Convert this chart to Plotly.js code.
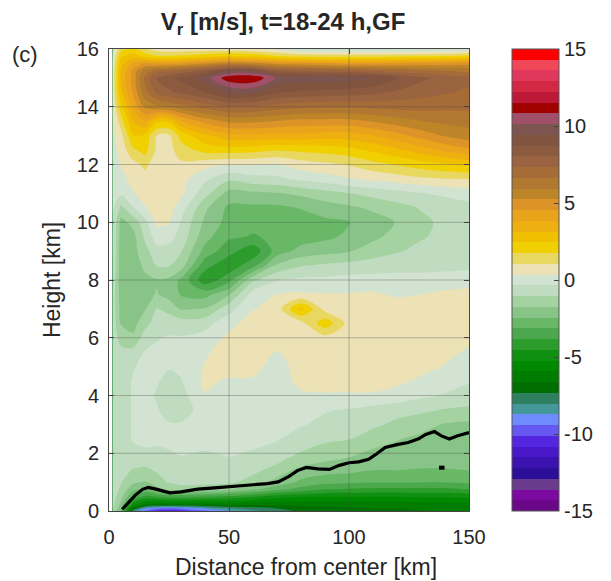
<!DOCTYPE html>
<html>
<head>
<meta charset="utf-8">
<script src="https://cdn.plot.ly/plotly-3.0.1.min.js"></script>
<style>html,body{margin:0;padding:0;background:#fff;}#chart{width:611px;height:581px;}</style>
</head>
<body>
<div id="chart"></div>
<script>
// Radial distance (km) of the grid columns
const distanceKm = [1.5, 5, 10, 15, 20, 25, 30, 40, 50, 60, 70, 80, 90, 100, 110, 120, 130, 140, 150];
// Heights (km) of the grid rows
const heightKm = [0, 0.1, 0.25, 0.5, 0.75, 1, 1.5, 2, 2.5, 3, 3.5, 4, 4.5, 5, 5.5, 6, 6.5, 7, 7.5, 8,
  8.5, 9, 9.5, 10, 10.5, 11, 11.5, 12, 12.5, 13, 13.5, 14, 14.5, 15, 15.25, 15.5, 15.75, 16];
// Radial wind Vr (m/s), one row per height
const vr = [
  [-1.0, -2.5, -8.0, -9.5, -10.4, -10.6, -10.4, -9.6, -8.8, -8.2, -7.6, -7.2, -7.0, -6.9, -6.8, -6.8, -6.7, -6.6, -6.5], // 0
  [-0.9, -2.2, -6.5, -8.6, -9.2, -9.4, -9.2, -8.6, -8.0, -7.6, -7.3, -7.0, -6.8, -6.7, -6.6, -6.6, -6.5, -6.5, -6.4],   // 0.1
  [-0.8, -1.9, -4.8, -5.8, -6.0, -6.0, -6.0, -6.0, -6.0, -6.2, -6.3, -6.3, -6.3, -6.3, -6.2, -6.2, -6.1, -6.1, -6.0],   // 0.25
  [-0.7, -1.5, -3.2, -4.0, -3.8, -3.6, -3.6, -3.8, -4.0, -4.4, -4.9, -5.1, -5.2, -5.2, -5.2, -5.2, -5.1, -5.1, -5.0],   // 0.5
  [-0.6, -1.2, -2.2, -2.6, -2.0, -1.5, -1.4, -1.5, -1.7, -2.3, -2.9, -3.4, -3.8, -3.9, -4.0, -4.0, -4.0, -4.0, -3.8],   // 0.75
  [-0.6, -1.0, -1.6, -1.8, -1.3, -1.0, -0.8, -0.8, -0.9, -1.3, -2.0, -2.6, -2.9, -3.0, -3.1, -3.1, -3.1, -3.1, -3.0],   // 1
  [-0.5, -0.8, -1.0, -1.1, -0.9, -0.7, -0.6, -0.6, -0.5, -0.8, -1.2, -1.8, -2.0, -2.1, -2.3, -2.3, -2.4, -2.4, -2.3],   // 1.5
  [-0.5, -0.7, -0.5, -0.45, -0.5, -0.4, -0.3, -0.4, -0.3, -0.4, -0.6, -1.1, -1.4, -1.6, -1.9, -2.0, -2.1, -2.2, -2.2], // 2
  [-0.5, -0.6, -0.3, -0.2, -0.2, -0.2, -0.2, -0.1, -0.1, -0.2, -0.3, -0.6, -0.9, -1.0, -1.4, -1.7, -1.9, -2.0, -2.1],   // 2.5
  [-0.5, -0.6, -0.3, -0.2, -0.2, -0.3, -0.3, -0.1, 0.0, 0.0, -0.1, -0.3, -0.5, -0.7, -0.9, -1.2, -1.5, -1.8, -1.9],     // 3
  [-0.5, -0.6, -0.3, -0.2, -0.3, -0.6, -0.6, -0.1, 0.0, 0.0, 0.0, -0.1, -0.3, -0.4, -0.6, -0.8, -0.9, -1.1, -1.2],      // 3.5
  [-0.4, -0.6, -0.3, -0.2, -0.4, -0.6, -0.6, 0.3, 0.1, 0.1, -0.1, 0.2, 0.25, 0.25, 0.25, 0.1, -0.2, -0.4, -0.6],        // 4
  [-0.4, -0.6, -0.3, -0.2, -0.3, -0.5, -0.4, 0.5, 0.25, 0.25, -0.1, 0.6, 0.7, 0.7, 0.7, 0.5, 0.2, -0.1, -0.3],          // 4.5
  [-0.4, -0.7, -0.4, -0.2, -0.2, -0.3, -0.2, 0.4, 0.7, 0.6, 0.0, 0.7, 0.8, 0.8, 0.8, 0.8, 0.6, 0.3, 0.0],              // 5
  [-0.4, -0.8, -0.8, -0.3, -0.2, -0.2, -0.2, 0.25, 0.7, 0.7, 0.3, 0.8, 0.8, 0.8, 0.8, 0.8, 0.8, 0.6, 0.2],             // 5.5
  [-0.5, -1.4, -1.6, -0.7, -0.4, -0.3, -0.3, -0.1, 0.5, 0.8, 0.8, 0.8, 0.8, 0.8, 0.8, 0.8, 0.8, 0.8, 0.6],             // 6
  [-0.6, -1.8, -2.0, -1.3, -0.7, -0.6, -0.7, -0.6, 0.1, 0.7, 0.8, 0.8, 2.2, 0.8, 0.8, 0.8, 0.8, 0.8, 0.8],             // 6.5
  [-0.6, -2.0, -2.1, -1.8, -1.0, -1.3, -1.8, -1.7, -0.6, 0.3, 0.7, 2.6, 0.8, 0.8, 0.8, 0.8, 0.8, 0.8, 0.8],            // 7
  [-0.6, -2.1, -2.2, -1.9, -1.7, -2.0, -2.5, -2.7, -1.8, 0.0, 0.35, 0.45, 0.4, 0.4, 0.45, 0.25, 0.35, 0.5, 0.6],       // 7.5
  [-0.5, -2.2, -2.2, -1.9, -1.8, -1.9, -2.6, -4.3, -3.4, -1.2, -0.4, -0.2, -0.2, -0.1, -0.1, -0.1, -0.1, 0.0, 0.0],    // 8
  [-0.4, -2.2, -2.1, -1.6, -1.0, -1.0, -1.4, -3.6, -4.3, -3.4, -1.6, -1.1, -0.9, -0.8, -0.7, -0.6, -0.6, -0.6, -0.5],  // 8.5
  [-0.3, -2.2, -2.0, -1.3, -0.6, -0.6, -1.0, -2.7, -3.6, -4.3, -2.8, -2.2, -2.0, -1.8, -1.4, -1.1, -0.9, -0.8, -0.8],  // 9
  [-0.3, -2.1, -2.0, -0.9, 0.0, -0.1, -0.6, -2.2, -3.0, -3.2, -3.0, -2.8, -2.6, -2.3, -1.9, -1.5, -1.1, -0.9, -0.8],   // 9.5
  [-0.3, -2.0, -1.5, -0.6, 0.5, 0.4, -0.4, -1.9, -2.7, -2.9, -2.9, -2.8, -2.6, -2.45, -2.1, -1.7, -1.2, -0.9, -0.8],   // 10
  [-0.2, -1.2, -0.4, 0.3, 0.7, 0.6, 0.0, -1.6, -2.6, -2.6, -2.6, -2.4, -2.1, -1.9, -1.6, -1.3, -1.0, -0.8, -0.6],      // 10.5
  [-0.2, -0.2, 0.3, 0.6, 0.8, 0.8, 0.5, -0.8, -2.0, -1.9, -1.8, -1.6, -1.3, -1.05, -0.8, -0.6, -0.4, -0.2, 0.0],       // 11
  [-0.1, 0.1, 0.6, 0.8, 0.8, 0.8, 0.6, -0.2, -0.9, -0.6, -0.5, -0.2, 0.0, 0.3, 0.5, 0.7, 0.9, 1.0, 1.05],              // 11.5
  [0.0, 0.4, 0.8, 1.2, 0.7, 0.7, 0.9, 0.6, 0.4, 0.4, 0.3, 0.7, 0.9, 1.1, 1.5, 1.8, 2.1, 2.4, 2.6],                     // 12
  [0.1, 0.6, 1.6, 2.0, 0.9, 0.8, 1.4, 2.0, 2.1, 2.0, 1.8, 1.9, 2.0, 2.2, 2.6, 3.0, 3.5, 4.0, 4.4],                     // 12.5
  [0.2, 0.8, 2.4, 2.3, 1.0, 0.9, 2.0, 3.0, 3.6, 3.7, 3.6, 3.6, 3.5, 3.5, 3.8, 4.3, 4.8, 5.3, 5.6],                     // 13
  [0.3, 1.4, 3.2, 3.8, 2.6, 2.6, 3.8, 4.8, 5.4, 5.4, 5.2, 5.0, 5.0, 5.0, 5.3, 5.6, 5.9, 6.1, 6.2],                     // 13.5
  [0.4, 2.2, 4.0, 5.4, 5.8, 6.0, 6.3, 6.9, 7.4, 7.3, 7.0, 6.8, 6.7, 6.7, 6.8, 6.9, 6.9, 6.8, 6.8],                     // 14
  [0.5, 3.0, 4.6, 6.4, 7.5, 7.9, 8.2, 8.7, 9.5, 9.5, 8.8, 8.6, 8.5, 8.4, 8.2, 7.9, 7.6, 7.4, 7.2],                     // 14.5
  [0.5, 3.3, 4.8, 6.8, 8.1, 8.5, 8.9, 9.7, 11.3, 11.45, 10.0, 9.8, 9.8, 9.7, 9.5, 8.8, 8.2, 7.8, 7.5],                 // 15
  [0.5, 3.2, 4.8, 6.2, 6.9, 7.2, 7.5, 8.2, 9.4, 9.4, 8.0, 7.8, 7.6, 7.5, 7.3, 7.0, 6.8, 6.6, 6.4],                     // 15.25
  [0.4, 2.9, 4.0, 4.5, 4.4, 4.4, 4.6, 5.2, 5.8, 5.5, 5.0, 4.8, 4.6, 4.5, 4.5, 4.6, 4.7, 4.8, 5.0],                     // 15.5
  [0.3, 2.3, 2.8, 2.2, 1.8, 1.8, 1.9, 2.2, 2.5, 2.3, 1.8, 1.6, 1.5, 1.5, 1.5, 1.6, 1.7, 1.8, 2.0],                     // 15.75
  [0.1, 1.5, 2.0, 1.2, 0.7, 0.6, 0.6, 0.6, 0.6, 0.5, 0.2, -0.4, -0.5, -0.5, -0.5, -0.5, -0.5, -0.4, -0.3]              // 16
];
// Black inflow-depth line
const lineX = [5.5, 8, 11, 14, 16.4, 20, 25.3, 30, 37, 44, 50.7, 60, 66, 70.5, 75, 78.5, 82.2, 87, 91.8, 96, 100,
  104, 108.2, 111, 115.1, 120, 124.7, 129, 132, 135.6, 138.5, 141.8, 145, 150];
const lineY = [0.06, 0.3, 0.55, 0.75, 0.82, 0.75, 0.63, 0.66, 0.76, 0.8, 0.84, 0.9, 0.95, 1.01, 1.2, 1.4, 1.51, 1.46,
  1.44, 1.58, 1.67, 1.7, 1.79, 1.95, 2.2, 2.3, 2.37, 2.5, 2.65, 2.75, 2.6, 2.49, 2.6, 2.72];
const dashX = [137.5, 139.8];
const dashY = [1.5, 1.5];
// Tick labels
const xTicks = [0, 50, 100, 150];
const yTicks = [0, 2, 4, 6, 8, 10, 12, 14, 16];
const cbTicks = [-15, -10, -5, 0, 5, 10, 15];
// Colormap: 43 bands from -15 to 15 (bottom to top)
const bandColors = ['#6A0888','#7A0AA0','#6A3A8C','#2C0E98','#3C12B0','#4A18C8','#5526E0','#6458F0','#6C8CFF',
  '#44989A','#2E8060','#006E00','#007C00','#008800','#109010','#2C9C2C','#4CA84C','#68B868','#88C488','#A4D2A0',
  '#C0DCC0','#D2E3D2','#ECE2B6','#E8D860','#F0D000','#F0C000','#EEB010','#EAA41C','#DC9428','#BE8428','#B07830',
  '#A66C38','#9A6440','#8C5B3F','#80543F','#7C5450','#A05068','#A00000','#BE1838','#D22844','#E0385C','#F04858','#FF0000'];

const nb = bandColors.length;
const d = 30 / nb;
const colorscale = bandColors.map((c, k) => [k / (nb - 1), c]);

const FONT = 'Liberation Sans, Arial, Helvetica, sans-serif';
const TXT = '#262626';

const traces = [
  {
    type: 'contour', x: distanceKm, y: heightKm, z: vr,
    zmin: -15, zmax: 15, zauto: false, autocontour: false,
    colorscale: colorscale,
    contours: {start: -15 + d, end: 15 - d + d * 0.01, size: d, coloring: 'fill', showlines: false},
    line: {width: 0, smoothing: 1},
    hoverinfo: 'skip',
    colorbar: {
      x: (519.5 - 109) / 367, xanchor: 'left', xpad: 0,
      y: 0, yanchor: 'bottom', ypad: 0, len: 1, lenmode: 'fraction',
      thickness: 47, thicknessmode: 'pixels',
      outlinecolor: '#555', outlinewidth: 1,
      tickmode: 'array', tickvals: cbTicks, ticktext: cbTicks.map(String),
      ticks: 'inside', ticklen: 5, tickcolor: '#444',
      tickfont: {family: FONT, size: 20, color: TXT}
    }
  },
  {type: 'scatter', mode: 'lines', x: lineX, y: lineY, line: {color: '#000', width: 3.2}, hoverinfo: 'skip', showlegend: false},
  {type: 'scatter', mode: 'lines', x: dashX, y: dashY, line: {color: '#000', width: 4}, hoverinfo: 'skip', showlegend: false}
];

const gridColor = 'rgba(70,70,70,0.35)';
const shapes = [];
xTicks.filter(v => v > 0 && v < 150).forEach(v => shapes.push({type: 'line', xref: 'x', yref: 'paper', x0: v, x1: v, y0: 0, y1: 1, line: {color: gridColor, width: 1}, layer: 'above'}));
yTicks.filter(v => v > 0 && v < 16).forEach(v => shapes.push({type: 'line', xref: 'paper', yref: 'y', x0: 0, x1: 1, y0: v, y1: v, line: {color: gridColor, width: 1}, layer: 'above'}));

const axisCommon = {
  ticks: 'inside', ticklen: 5, tickcolor: '#444', showline: true, linecolor: '#444', linewidth: 1,
  mirror: 'ticks', showgrid: false, zeroline: false, layer: 'above traces',
  tickfont: {family: FONT, size: 20, color: TXT}
};

const layout = {
  width: 611, height: 581,
  margin: {l: 109, r: 135, t: 49, b: 70},
  paper_bgcolor: '#fff', plot_bgcolor: '#fff',
  showlegend: false,
  font: {family: FONT, color: TXT},
  title: {text: '<b>V<sub>r</sub> [m/s], t=18-24 h,GF</b>', font: {family: FONT, size: 24, color: TXT},
    x: 283 / 611, xanchor: 'center', xref: 'container', y: 1 - 22 / 581, yanchor: 'middle', yref: 'container'},
  xaxis: Object.assign({}, axisCommon, {range: [0, 150], tickmode: 'array', tickvals: xTicks, ticklabelstandoff: 8}),
  yaxis: Object.assign({}, axisCommon, {range: [0, 16], tickmode: 'array', tickvals: yTicks, ticklabelstandoff: 5}),
  shapes: shapes,
  annotations: [
    {text: 'Distance from center [km]', xref: 'paper', yref: 'paper', x: (310 - 109) / 367, y: (511 - 567) / 462,
      xanchor: 'center', yanchor: 'middle', showarrow: false, font: {family: FONT, size: 23, color: TXT}},
    {text: 'Height [km]', xref: 'paper', yref: 'paper', x: (51 - 109) / 367, y: 0.5, textangle: -90,
      xanchor: 'center', yanchor: 'middle', showarrow: false, font: {family: FONT, size: 23, color: TXT}},
    {text: '(c)', xref: 'paper', yref: 'paper', x: (8 - 109) / 367, y: (511 - 54) / 462,
      xanchor: 'left', yanchor: 'middle', showarrow: false, font: {family: FONT, size: 22, color: TXT}}
  ]
};

Plotly.newPlot('chart', traces, layout, {displayModeBar: false, staticPlot: true});
</script>
</body>
</html>
